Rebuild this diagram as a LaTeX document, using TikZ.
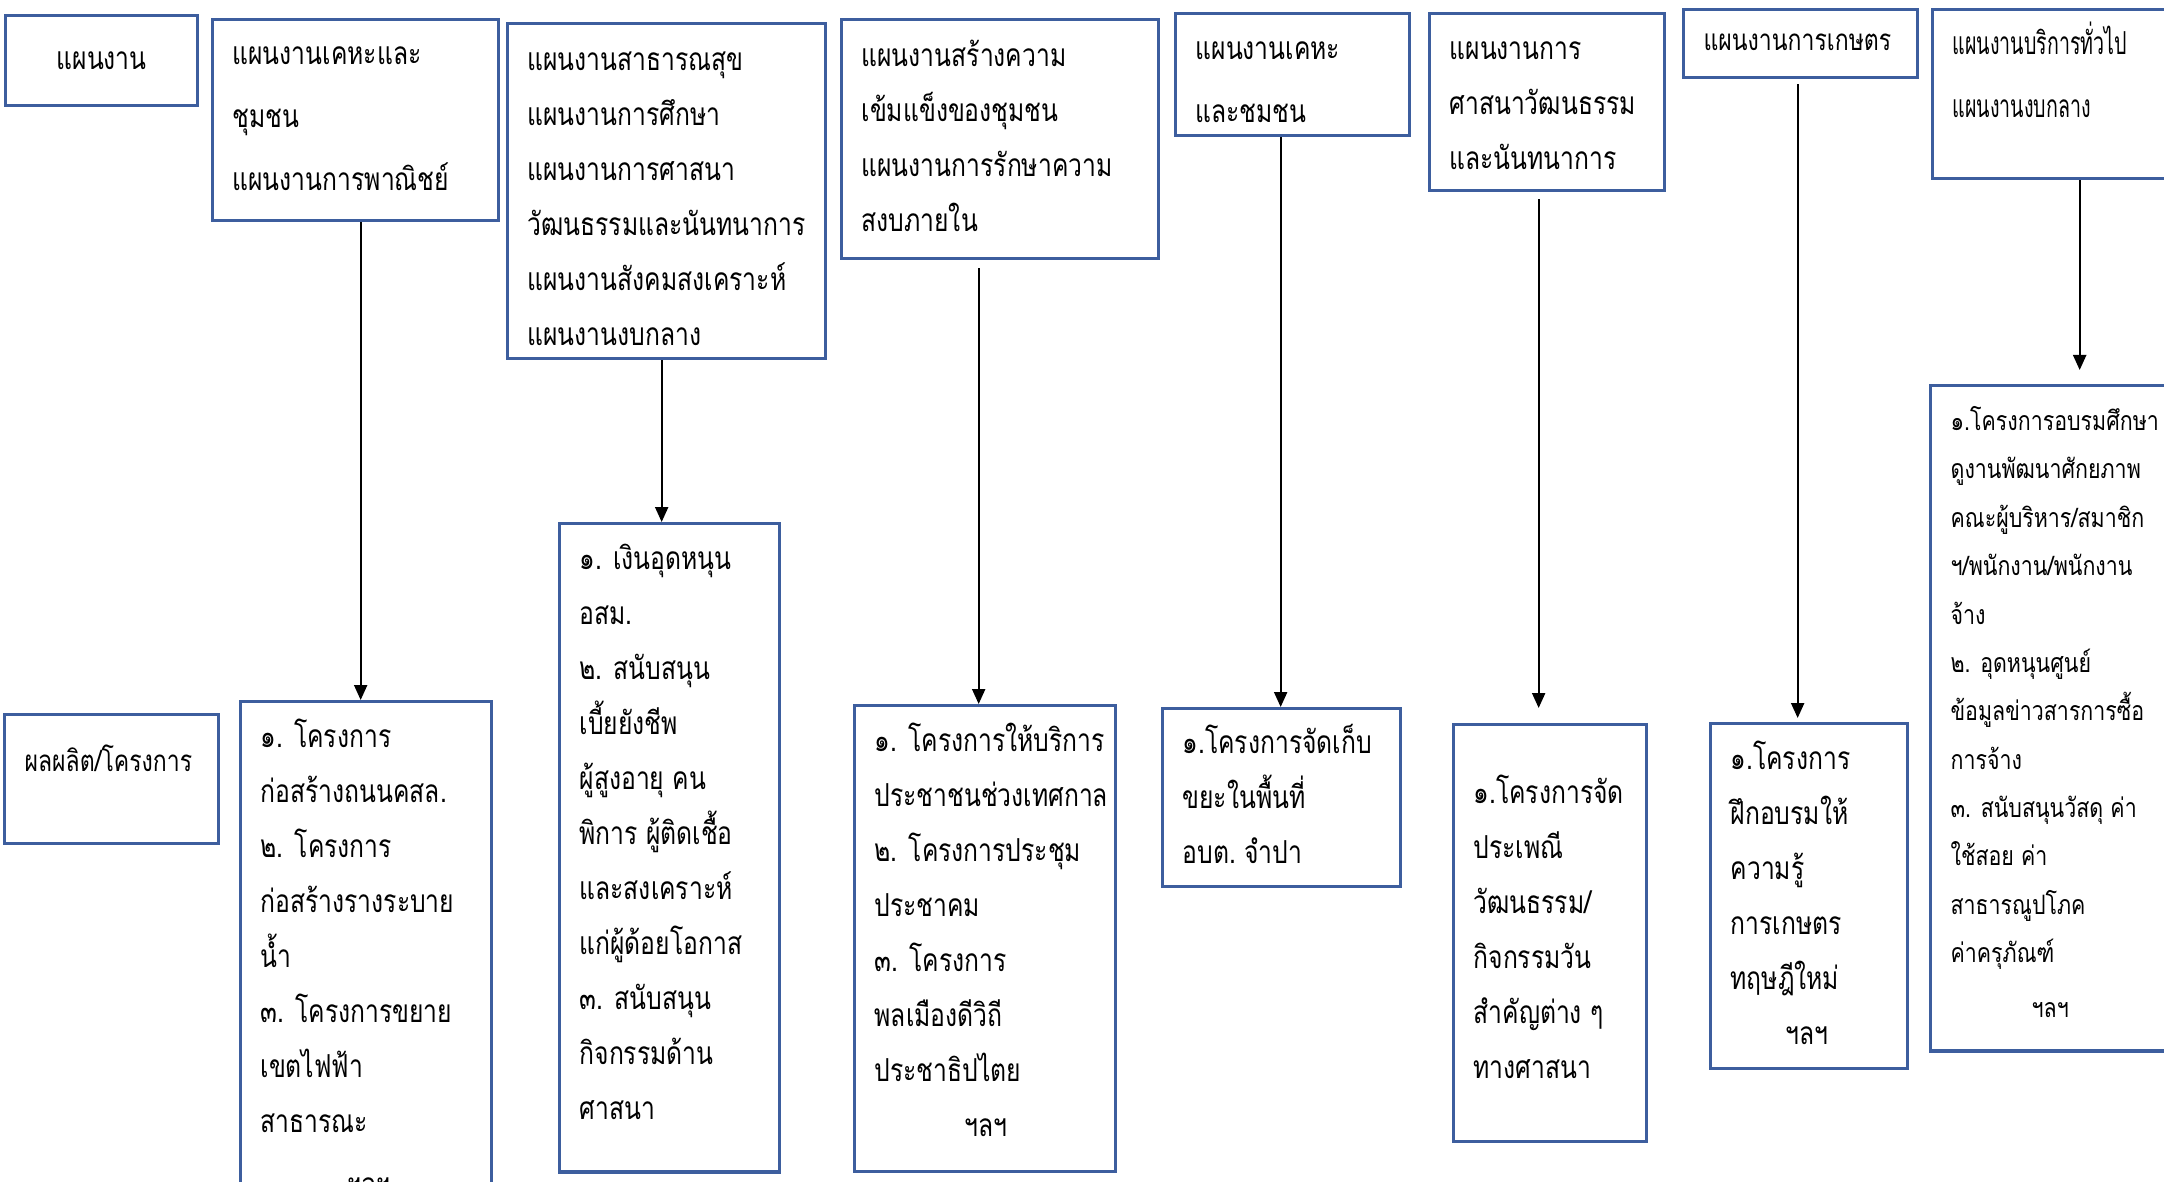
\documentclass[tikz,border=0pt]{standalone}
\usepackage{fontspec}
\newfontfamily\thaifont[Script=Thai, FakeStretch=0.78]{Loma}
\newfontfamily\thaiwide[Script=Thai, FakeStretch=0.8]{Loma}
\newfontfamily\thainarrow[Script=Thai, FakeStretch=0.62]{Loma}
\usetikzlibrary{arrows.meta}
\definecolor{planblue}{RGB}{61,94,158}
% #1 width, #2 height, #3 first baseline, #4 lines
\newcommand{\plantext}[4]{\parbox[t][#2][t]{#1}{\leftskip=0.2cm\rule{0pt}{#3}#4}}

\begin{document}
\begin{tikzpicture}
[
x=0.01cm, y=-0.01cm,
plan/.style={draw=planblue, line width=0.9pt, inner sep=0pt, anchor=north west},
normal/.style={font=\thaifont\fontsize{9}{15.65}\selectfont},
loose/.style={font=\thaifont\fontsize{9}{17.9}\selectfont},
narrow/.style={font=\thainarrow\fontsize{9}{17.9}\selectfont},
small/.style={font=\thaifont\fontsize{8.4}{13.8}\selectfont},
list/.style={font=\thaiwide\fontsize{7.6}{13.75}\selectfont},
flow/.style={-{Triangle[length=0.15cm,width=0.13cm]}, line width=0.6pt}
]
\useasboundingbox (0,0) rectangle (2164,1181);
%Plans
\node[plan, normal, minimum width=1.92cm, minimum height=0.9cm]	(a0) at(4,14) {แผนงาน};
\node[plan, loose]	(a1) at(211,18) {\plantext{2.86cm}{2.01cm}{0.45cm}{แผนงานเคหะและ\\ชุมชน\\แผนงานการพาณิชย์}};
\node[plan, normal]	(a2) at(506,22) {\plantext{3.18cm}{3.35cm}{0.47cm}{แผนงานสาธารณสุข\\แผนงานการศึกษา\\แผนงานการศาสนา\\วัฒนธรรมและนันทนาการ\\แผนงานสังคมสงเคราะห์\\แผนงานงบกลาง}};
\node[plan, normal]	(a3) at(840,18) {\plantext{3.17cm}{2.39cm}{0.47cm}{แผนงานสร้างความ\\เข้มแข็งของชุมชน\\แผนงานการรักษาความ\\สงบภายใน}};
\node[plan, loose]	(a4) at(1174,12) {\plantext{2.34cm}{1.22cm}{0.46cm}{แผนงานเคหะ\\และชมชน}};
\node[plan, normal]	(a5) at(1428,12) {\plantext{2.35cm}{1.77cm}{0.46cm}{แผนงานการ\\ศาสนาวัฒนธรรม\\และนันทนาการ}};
\node[plan, small]	(a6) at(1682,8) {\plantext{2.34cm}{0.68cm}{0.41cm}{แผนงานการเกษตร}};
\node[plan, narrow]	(a7) at(1931,8) {\plantext{2.44cm}{1.69cm}{0.45cm}{แผนงานบริการทั่วไป\\แผนงานงบกลาง}};

%Projects
\node[plan, small]	(b0) at(3,713) {\plantext{2.14cm}{1.29cm}{0.57cm}{ผลผลิต/โครงการ}};
\node[plan, normal]	(b1) at(239,700) {\plantext{2.51cm}{5.0cm}{0.46cm}{๑. โครงการ\\ก่อสร้างถนนคสล.\\๒. โครงการ\\ก่อสร้างรางระบาย\\น้ำ\\๓. โครงการขยาย\\เขตไฟฟ้า\\สาธารณะ\\[0.08cm]\hspace*{0.87cm}ฯลฯ}};
\node[plan, normal]	(b2) at(558,522) {\plantext{2.20cm}{6.48cm}{0.46cm}{๑. เงินอุดหนุน\\อสม.\\๒. สนับสนุน\\เบี้ยยังชีพ\\ผู้สูงอายุ~คน\\พิการ~ผู้ติดเชื้อ\\และสงเคราะห์\\แก่ผู้ด้อยโอกาส\\๓. สนับสนุน\\กิจกรรมด้าน\\ศาสนา}};
\node[plan, normal]	(b3) at(853,704) {\plantext{2.61cm}{4.66cm}{0.46cm}{๑. โครงการให้บริการ\\ประชาชนช่วงเทศกาล\\๒. โครงการประชุม\\ประชาคม\\๓. โครงการ\\พลเมืองดีวิถี\\ประชาธิปไตย\\\hspace*{0.90cm}ฯลฯ}};
\node[plan, normal]	(b4) at(1161,707) {\plantext{2.38cm}{1.78cm}{0.45cm}{๑.โครงการจัดเก็บ\\ขยะในพื้นที่\\อบต.~จำปา}};
\node[plan, normal]	(b5) at(1452,723) {\plantext{1.93cm}{4.17cm}{0.79cm}{๑.โครงการจัด\\ประเพณี\\วัฒนธรรม/\\กิจกรรมวัน\\สำคัญต่าง~ๆ\\ทางศาสนา}};
\node[plan, normal]	(b6) at(1709,722) {\plantext{1.97cm}{3.45cm}{0.46cm}{๑.โครงการ\\ฝึกอบรมให้\\ความรู้\\การเกษตร\\ทฤษฎีใหม่\\\hspace*{0.55cm}ฯลฯ}};
\node[plan, list]	(b7) at(1929,384) {\plantext{2.46cm}{6.65cm}{0.45cm}{๑.โครงการอบรมศึกษา\\ดูงานพัฒนาศักยภาพ\\คณะผู้บริหาร/สมาชิก\\ฯ/พนักงาน/พนักงาน\\จ้าง\\๒. อุดหนุนศูนย์\\ข้อมูลข่าวสารการซื้อ\\การจ้าง\\๓. สนับสนุนวัสดุ~ค่า\\ใช้สอย~ค่า\\สาธารณูปโภค\\ค่าครุภัณฑ์\\[0.07cm]\hspace*{0.81cm}ฯลฯ}};

%Arrows
\draw[flow] ([xshift=0.05cm]a1.south) -- ([xshift=0.05cm]a1.south |- b1.north);
\draw[flow] ([xshift=-0.05cm]a2.south) -- ([xshift=-0.05cm]a2.south |- b2.north);
\draw[flow, shorten <=0.08cm] ([xshift=-0.215cm]a3.south) -- ([xshift=-0.215cm]a3.south |- b3.north);
\draw[flow] ([xshift=-0.12cm]a4.south) -- ([xshift=-0.12cm]a4.south |- b4.north);
\draw[flow, shorten <=0.07cm, shorten >=0.15cm] ([xshift=-0.085cm]a5.south) -- ([xshift=-0.085cm]a5.south |- b5.north);
\draw[flow, shorten <=0.05cm, shorten >=0.04cm] ([xshift=-0.03cm]a6.south) -- ([xshift=-0.03cm]a6.south |- b6.north);
\draw[flow, shorten >=0.14cm] ([xshift=0.25cm]a7.south) -- ([xshift=0.25cm]a7.south |- b7.north);

\end{tikzpicture}
\end{document}
